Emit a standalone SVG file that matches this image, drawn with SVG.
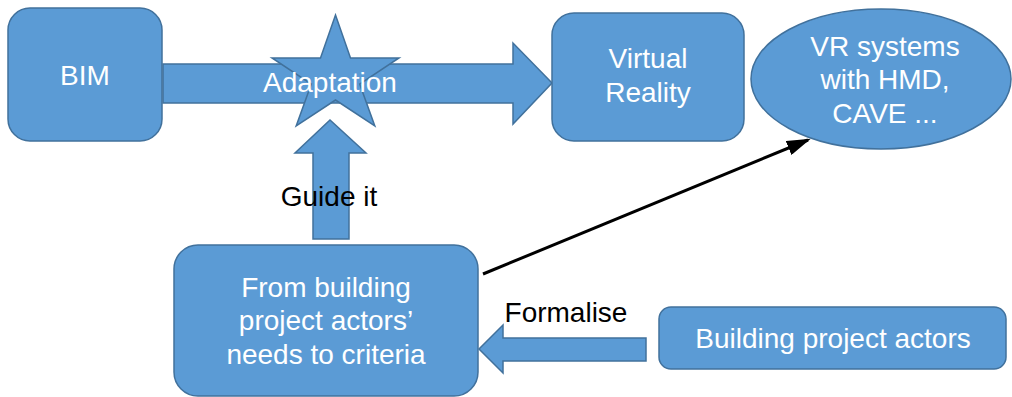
<svg xmlns="http://www.w3.org/2000/svg" width="1012" height="397" viewBox="0 0 1012 397">
<style>
.shape{fill:#5B9BD5;stroke:#41719C;stroke-width:1.5}
.wt{fill:#FFFFFF;font-family:"Liberation Sans",Arial,sans-serif;font-size:28px;text-anchor:middle}
.bt{fill:#000000;font-family:"Liberation Sans",Arial,sans-serif;font-size:28px;text-anchor:middle}
</style>
<defs>
<marker id="ah" markerWidth="8" markerHeight="5" refX="7" refY="2.5" orient="auto" markerUnits="strokeWidth">
<path d="M0,0 L8,2.5 L0,5 Z" fill="#000"/>
</marker>
</defs>
<rect width="1012" height="397" fill="#FFFFFF"/>
<g id="connectors">
<path id="arrow-adaptation" class="shape" d="M163,64 L513,64 L513,43 L552,83 L513,124 L513,103 L163,103 Z"/>
<path id="arrow-guide" class="shape" d="M313,239 L313,153 L295,153 L330,120 L366,153 L349,153 L349,239 Z"/>
<path id="arrow-formalise" class="shape" d="M646,338 L503,338 L503,325 L479,349 L503,373 L503,361 L646,361 Z"/>
<line id="arrow-vr" x1="483" y1="274" x2="808" y2="140" stroke="#000" stroke-width="3" marker-end="url(#ah)"/>
</g>
<g id="node-star">
<path class="shape" d="M335.5,15 L350.5,58 L399,58 L359.7,84 L374.8,126 L335.5,100 L296.2,126 L311.3,84 L272,58 L320.5,58 Z"/>
</g>
<g id="node-bim">
<rect class="shape" x="8" y="8" width="154" height="133" rx="22"/>
<text class="wt" x="85" y="85">BIM</text>
</g>
<g id="label-adaptation">
<text class="wt" x="330" y="92">Adaptation</text>
</g>
<g id="node-vr">
<rect class="shape" x="552" y="13" width="192" height="128" rx="22"/>
<text class="wt" x="648" y="68">Virtual</text>
<text class="wt" x="648" y="102">Reality</text>
</g>
<g id="node-vr-systems">
<ellipse class="shape" cx="881" cy="79" rx="130" ry="70"/>
<text class="wt" x="885" y="56">VR systems</text>
<text class="wt" x="885" y="89">with HMD,</text>
<text class="wt" x="885" y="123">CAVE ...</text>
</g>
<g id="label-guide">
<text class="bt" x="329" y="206">Guide it</text>
</g>
<g id="node-criteria">
<rect class="shape" x="174" y="245" width="304" height="151" rx="24"/>
<text class="wt" x="326" y="297">From building</text>
<text class="wt" x="326" y="330">project actors’</text>
<text class="wt" x="326" y="364">needs to criteria</text>
</g>
<g id="label-formalise">
<text class="bt" x="566" y="322">Formalise</text>
</g>
<g id="node-actors">
<rect class="shape" x="659" y="307" width="347" height="62" rx="12"/>
<text class="wt" x="833" y="348">Building project actors</text>
</g>
</svg>
